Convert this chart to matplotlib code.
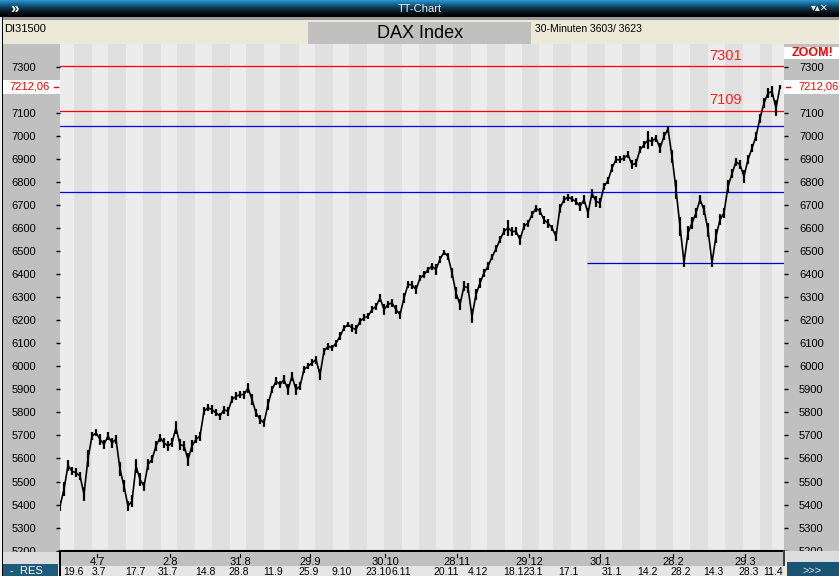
import numpy as np
import matplotlib.pyplot as plt
from matplotlib.patches import Rectangle
from matplotlib.lines import Line2D
from matplotlib import transforms

# DAX Index, 30-Minuten, Kurse gleichmaessig abgetastet (Balken-Index)
dax_close = [
    5394, 5466, 5570, 5545, 5538, 5524, 5445, 5600, 5697, 5711,
    5683, 5661, 5697, 5668, 5683, 5553, 5480, 5394, 5415, 5567,
    5509, 5480, 5574, 5596, 5654, 5690, 5668, 5654, 5668, 5733,
    5661, 5654, 5596, 5654, 5683, 5697, 5805, 5820, 5812, 5798,
    5784, 5812, 5805, 5856, 5870, 5877, 5877, 5906, 5856, 5798,
    5769, 5755, 5834, 5899, 5935, 5921, 5942, 5899, 5957, 5899,
    5914, 5986, 6000, 6015, 6029, 5964, 6065, 6087, 6080, 6100,
    6130, 6166, 6181, 6166, 6160, 6195, 6210, 6217, 6246, 6260,
    6296, 6246, 6268, 6275, 6246, 6224, 6296, 6354, 6354, 6332,
    6383, 6397, 6419, 6434, 6419, 6465, 6494, 6477, 6405, 6318,
    6268, 6347, 6340, 6217, 6311, 6361, 6405, 6434, 6474, 6509,
    6549, 6585, 6600, 6585, 6585, 6549, 6607, 6621, 6657, 6686,
    6672, 6636, 6621, 6600, 6564, 6686, 6722, 6734, 6725, 6715,
    6693, 6722, 6665, 6751, 6715, 6708, 6780, 6806, 6860, 6896,
    6896, 6903, 6918, 6874, 6881, 6939, 6961, 6982, 6975, 6990,
    6946, 6997, 7029, 6910, 6766, 6607, 6450, 6578, 6621, 6665,
    6723, 6679, 6592, 6450, 6564, 6636, 6665, 6780, 6835, 6888,
    6874, 6824, 6896, 6946, 6997, 7076, 7141, 7185, 7192, 7120,
    7212.06,
]
# Schwankungsbreite der Balken je Abtastpunkt (Punkte)
dax_spread = [
    40, 60, 50, 35, 40, 35, 60, 70, 35, 30,
    45, 40, 35, 45, 40, 60, 55, 45, 50, 60,
    55, 40, 45, 35, 40, 35, 45, 40, 40, 55,
    45, 40, 55, 50, 35, 40, 35, 30, 40, 30,
    30, 35, 40, 30, 35, 30, 35, 40, 45, 35,
    40, 35, 50, 30, 35, 30, 40, 45, 40, 50,
    35, 30, 25, 30, 35, 45, 30, 30, 25, 30,
    35, 30, 25, 35, 40, 30, 30, 25, 30, 30,
    35, 45, 30, 35, 40, 35, 45, 30, 35, 40,
    30, 30, 25, 30, 45, 30, 25, 30, 45, 55,
    50, 45, 40, 60, 50, 40, 35, 35, 30, 30,
    30, 30, 70, 40, 35, 45, 30, 30, 30, 30,
    30, 35, 40, 30, 45, 40, 30, 30, 25, 30,
    35, 40, 45, 40, 45, 40, 30, 30, 35, 30,
    30, 25, 30, 40, 35, 30, 30, 80, 40, 30,
    45, 35, 30, 60, 80, 80, 40, 60, 50, 45,
    40, 45, 60, 40, 60, 45, 40, 60, 40, 35,
    40, 55, 40, 35, 40, 40, 45, 40, 50, 70,
    20,
]
last_price = 7212.06

red_levels = [7301, 7109]
blue_levels = [7043, 6757]
support_level = 6450
support_start = 131.75

# Wochengrenzen (Balken-Index) fuer die grauen Streifen
week_starts = [3.5, 8, 12, 16.5, 20.75, 25.25, 29.25, 33.75, 38, 42.5,
               46.5, 51, 55, 59.75, 63.75, 68.25, 72.25, 76.75, 81, 85.5,
               89.75, 94, 98.25, 102.75, 106.75, 111.25, 115.5, 119.75, 123.25, 127.75,
               131.75, 136.25, 140.5, 145, 149, 153.25, 157.5, 162, 166.25, 170.75,
               175, 178]

month_labels = ["4.7", "2.8", "31.8", "29.9", "30.10", "28.11", "29.12", "30.1", "28.2", "29.3"]
month_pos = [9.25, 27.5, 45, 62.5, 81.25, 99.25, 117.25, 135, 153.25, 171.25]

day_labels = ["19.6", "3.7", "17.7", "31.7", "14.8", "28.8", "11.9", "25.9", "9.10", "23.10", "6.11",
              "20.11", "4.12", "18.12", "3.1", "17.1", "31.1", "14.2", "28.2", "14.3", "28.3", "11.4"]
day_pos = [0.75, 8, 16.25, 24.5, 33.75, 42, 50.75, 59.5, 68, 76.25, 82.75,
           93.25, 102, 110.75, 117.25, 124.5, 135.5, 144.25, 152.5, 160.75, 169.5, 175.75]

# 7200 wird vom aktuellen Kurs verdeckt
y_ticks = [v for v in range(5200, 7400, 100) if v != 7200]

plt.rcParams['font.family'] = ['Liberation Sans', 'DejaVu Sans']

W, H = 839, 576
fig = plt.figure(figsize=(W / 100, H / 100), dpi=100)
fig.patch.set_facecolor('#ECE9D8')


def fx(px):
    return px / W


def fy(py):
    return 1 - py / H


def box(x0, y0, x1, y1, color, z=-1):
    fig.add_artist(Rectangle((fx(x0), fy(y1)), (x1 - x0) / W, (y1 - y0) / H,
                             transform=fig.transFigure, facecolor=color,
                             edgecolor='none', zorder=z))


# Fensterrahmen und Panels
box(0, 0, 3, H, '#F0F0F0')
box(2, 8, 3, H, 'black')
box(3, 17, W, 20, '#9A9A9A')
box(3, 20, W, 44, '#ECE9D8')
box(308, 22, 531, 44, '#C0C0C0')
box(3, 44, 60, 552, '#C0C0C0')
box(784, 44, W, 551, '#C0C0C0')

# Titelleiste mit Verlauf
ax_t = fig.add_axes([0, fy(17), 1, 17 / H])
grad = np.linspace(0, 1, 17)[:, None]
top = np.array([0.15, 0.58, 0.82])
rgb = top[None, None, :] * (1 - grad[:, :, None]) ** 1.5
ax_t.imshow(rgb, aspect='auto', extent=[0, 1, 0, 1])
ax_t.axis('off')
fig.text(0.5, fy(8.5), "TT-Chart", color='#EDEDED', fontsize=8, ha='center', va='center')
fig.text(fx(10), fy(8.5), "»", color='white', fontsize=11, fontweight='bold', ha='left', va='center')
fig.text(fx(811), fy(8.5), "▾▴✕", color='#F0F0F0', fontsize=7, ha='left', va='center',
         family=['DejaVu Sans'])

# Kopfzeile
fig.text(fx(4), fy(29), "DI31500", fontsize=8, ha='left', va='center')
fig.text(fx(420), fy(33), "DAX Index", fontsize=13, ha='center', va='center')
fig.text(fx(535), fy(28.5), "30-Minuten 3603/ 3623", fontsize=7.5, ha='left', va='center')

# Hauptdiagramm
ax = fig.add_axes([fx(60), fy(550.7), (784 - 60) / W, (550.7 - 44) / H])
x = np.arange(len(dax_close))
ax.set_xlim(0, 181)
ax.set_ylim(5200, 7398)
ax.set_facecolor('#ECECEC')

bounds = [0] + week_starts + [181]
for k in range(len(bounds) - 1):
    if k % 2 == 1:
        ax.axvspan(bounds[k], bounds[k + 1], color='#E0E0E0', lw=0, zorder=0)

for lv in red_levels:
    ax.axhline(lv, color='#FF0000', lw=0.9, zorder=2)
    ax.text(162.25, lv + 14, str(lv), color='#FF2020', fontsize=10.5, ha='left', va='bottom')
for lv in blue_levels:
    ax.axhline(lv, color='#0000FF', lw=0.9, zorder=2)
ax.hlines(support_level, support_start, 181, color='#0000C8', lw=0.9, zorder=2)

close = np.array(dax_close)
spread = np.array(dax_spread)
ax.vlines(x, close - spread / 2, close + spread / 2, color='black', lw=1.6, zorder=3)
ax.plot(x, close, color='black', lw=1.2, zorder=3)

ax.set_xticks([])
ax.set_yticks(y_ticks)
ax.tick_params(axis='y', direction='out', length=2.9, width=1, pad=14.4, labelsize=8)
for s in ['top', 'left', 'right']:
    ax.spines[s].set_visible(False)
ax.spines['bottom'].set_linewidth(1.5)

ax_r = ax.twinx()
ax_r.set_ylim(ax.get_ylim())
ax_r.set_yticks(y_ticks)
ax_r.tick_params(axis='y', direction='out', length=2.9, width=1, pad=7.9, labelsize=8)
for s in ax_r.spines.values():
    s.set_visible(False)

# aktueller Kurs links und rechts
trans_y = transforms.blended_transform_factory(fig.transFigure, ax.transData)
for x0, x1 in [(3, 60), (784, W)]:
    fig.add_artist(Rectangle((fx(x0), last_price - 30), (x1 - x0) / W, 60, transform=trans_y,
                             facecolor='white', edgecolor='none', zorder=1))
fig.add_artist(Line2D([fx(54), fx(58)], [last_price, last_price], transform=trans_y, color='red', lw=1, zorder=2))
fig.add_artist(Line2D([fx(786), fx(790)], [last_price, last_price], transform=trans_y, color='red', lw=1, zorder=2))
fig.text(fx(50), last_price, "7212,06", transform=trans_y, color='red', fontsize=8, ha='right', va='center')
fig.text(fx(798), last_price, "7212,06", transform=trans_y, color='red', fontsize=8, ha='left', va='center')

# ZOOM!
box(784, 47, W, 59, 'white', z=1)
fig.text(fx(812), fy(53), "ZOOM!", color='red', fontsize=9, fontweight='bold', ha='center', va='center')

# Datumsleiste unten
box(3, 552, 60, 564, '#DCDCDC', z=1)
box(60, 551.5, 784, 566, '#C0C0C0', z=1)
box(60, 566, 784, H, '#E6E6E6', z=1)
box(59, 550, 61, H, 'black', z=1.5)
box(783, 550, 785, 566, '#404040', z=1.5)
box(785, 551, W, 562, '#DCDCDC', z=1)
box(3, 564, 58, H, '#1E5C7C', z=1)
box(787, 562, W, H, '#1A5474', z=1)
fig.text(fx(10), fy(571), "-  RES", color='white', fontsize=8, ha='left', va='center', zorder=2)
fig.text(fx(812), fy(571), ">>>", color='#E8E8E8', fontsize=8, ha='center', va='center', zorder=2)

trans_x = transforms.blended_transform_factory(ax.transData, fig.transFigure)
for lab, p in zip(month_labels, month_pos):
    fig.text(p, fy(562), lab, transform=trans_x, fontsize=8, ha='center', va='center', zorder=2)
    fig.add_artist(Line2D([p, p], [fy(554), fy(557)], transform=trans_x, color='black', lw=0.8, zorder=2))
for lab, p in zip(day_labels, day_pos):
    fig.text(p, fy(567), lab, transform=trans_x, fontsize=7.5, ha='left', va='top', zorder=2)

fig.savefig('out.png', dpi=100)
